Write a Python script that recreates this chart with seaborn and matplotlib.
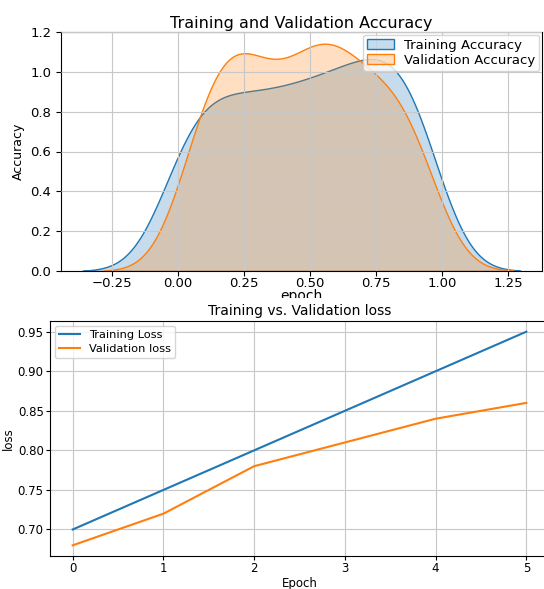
import matplotlib
matplotlib.use("Agg")
import matplotlib.pyplot as plt
import seaborn as sns
import pandas as pd
from matplotlib.patches import Rectangle
from matplotlib import font_manager

# ---- data ----
train_acc = [-0.012, 0.043, 0.099, 0.154, 0.210, 0.266, 0.321, 0.377, 0.431, 0.484,
             0.535, 0.586, 0.635, 0.682, 0.728, 0.774, 0.818, 0.862, 0.905, 0.948]
val_acc = [0.054, 0.101, 0.147, 0.188, 0.228, 0.266, 0.310, 0.362, 0.425, 0.470,
           0.510, 0.550, 0.588, 0.627, 0.675, 0.726, 0.778, 0.830, 0.882, 0.935]

epochs = [0, 1, 2, 3, 4, 5]
train_loss = [0.70, 0.75, 0.80, 0.85, 0.90, 0.95]
val_loss = [0.68, 0.72, 0.78, 0.81, 0.84, 0.86]

W, H = 544, 589
fig = plt.figure(figsize=(W / 100, H / 100), dpi=100)

def box(l, t, r, b):
    return [l / W, 1 - b / H, (r - l) / W, (b - t) / H]

top_font = ['DejaVu Sans']

def nfp(size):
    return font_manager.FontProperties(family='DejaVu Sans', size=size)

# ---- top: KDE of accuracy ----
ax1 = fig.add_axes(box(61, 32, 542, 271))
sns.kdeplot(x=train_acc, fill=True, bw_adjust=0.70, label='Training Accuracy', ax=ax1)
sns.kdeplot(x=val_acc, fill=True, bw_adjust=0.75, label='Validation Accuracy', ax=ax1)
ax1.set_ylim(0, 1.2)
ax1.grid(True, color='#c8c8c8')
ax1.set_axisbelow(False)
ax1.set_title('Training and Validation Accuracy', fontsize=11.5, family=top_font, pad=3)
ax1.set_xlabel('epoch', fontsize=10, family=top_font, labelpad=-1)
ax1.set_ylabel('Accuracy')
ax1.yaxis.label.set_fontproperties(nfp(9))
ax1.set_xticks([-0.25, 0.0, 0.25, 0.5, 0.75, 1.0, 1.25])
ax1.set_yticks([0.0, 0.2, 0.4, 0.6, 0.8, 1.0, 1.2])
ax1.tick_params(axis='x', pad=1.0)
for lab in ax1.get_xticklabels() + ax1.get_yticklabels():
    lab.set_family(top_font)
    lab.set_fontsize(9.5)
ax1.legend(loc='upper right', prop={'family': top_font, 'size': 9.5},
           borderaxespad=0.2, handlelength=2.0, labelspacing=0.15, borderpad=0.3)

# white strip covering the lower part of the top "epoch" label (screenshot seam)
fig.patches.append(Rectangle((0, 0), 1, 1 - 298 / H, transform=fig.transFigure,
                             facecolor='white', edgecolor='none', zorder=1))

# ---- bottom: loss lines ----
ax2 = fig.add_axes(box(50, 321, 549, 556))
ax2.set_zorder(2)
df = pd.DataFrame({'Epoch': epochs * 2,
                   'loss': train_loss + val_loss,
                   'series': ['Training Loss'] * 6 + ['Validation loss'] * 6})
sns.lineplot(data=df, x='Epoch', y='loss', hue='series', ax=ax2, linewidth=1.5)
ax2.grid(True, color='#c8c8c8')
ax2.set_title('Training vs. Validation loss', pad=4)
ax2.title.set_fontproperties(nfp(10))
ax2.set_xlabel('Epoch', labelpad=1)
ax2.set_ylabel('loss', labelpad=2)
ax2.xaxis.label.set_fontproperties(nfp(8.5))
ax2.yaxis.label.set_fontproperties(nfp(8.5))
ax2.set_xticks(epochs)
ax2.set_yticks([0.70, 0.75, 0.80, 0.85, 0.90, 0.95])
ax2.tick_params(length=3, pad=1.5)
for lab in ax2.get_xticklabels() + ax2.get_yticklabels():
    lab.set_fontproperties(nfp(8.5))
ax2.legend(loc='upper left', title=None, prop=nfp(8.2), borderaxespad=0.4,
           handlelength=1.8, labelspacing=0.3)

fig.savefig('out.png', dpi=100, facecolor='white')
